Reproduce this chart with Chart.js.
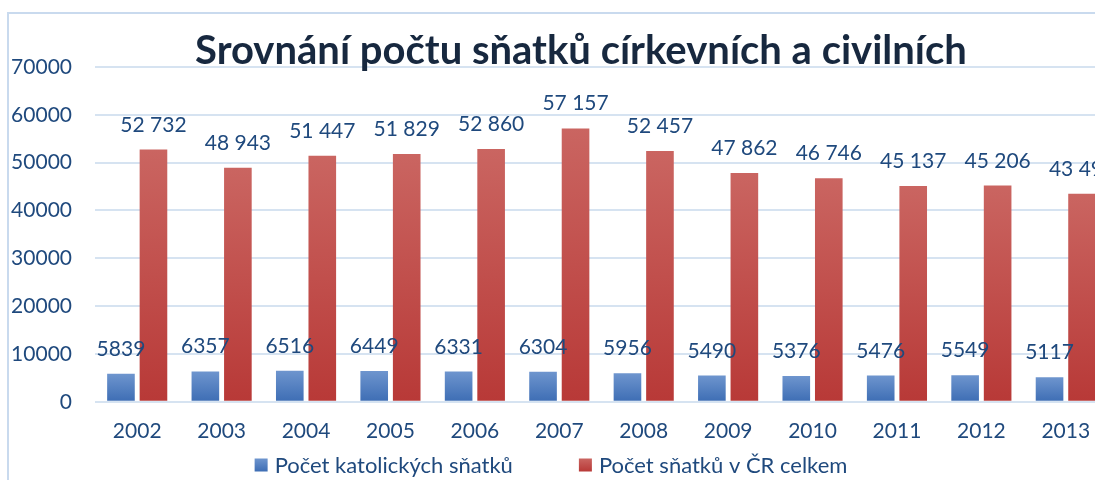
<!DOCTYPE html>
<html>
<head>
<meta charset="utf-8">
<script src="https://cdn.jsdelivr.net/npm/chart.js@4.4.1/dist/chart.umd.min.js"></script>
<style>
  html, body { margin: 0; padding: 0; background: #fff; overflow: hidden; }
  #wrap { position: relative; width: 1095px; height: 480px; overflow: hidden; }
  #frame { position: absolute; left: 7px; top: 12px; width: 1200px; height: 600px;
           border-left: 2px solid #c9daee; border-top: 2px solid #c9daee; }
  #box { position: absolute; left: 0; top: 0; width: 1120px; height: 480px; }
</style>
</head>
<body>
<div id="wrap">
  <div id="frame"></div>
  <div id="box"><canvas id="chart"></canvas></div>
</div>
<script>
const titleText = 'Srovnání počtu sňatků církevních a civilních';
const years = ['2002', '2003', '2004', '2005', '2006', '2007', '2008', '2009', '2010', '2011', '2012', '2013'];
const katolicke = [5839, 6357, 6516, 6449, 6331, 6304, 5956, 5490, 5376, 5476, 5549, 5117];
const celkem = [52732, 48943, 51447, 51829, 52860, 57157, 52457, 47862, 46746, 45137, 45206, 43499];
const seriesNames = ['Počet katolických sňatků', 'Počet sňatků v ČR celkem'];
const yMax = 70000;
const yStep = 10000;

const FONT = 'Lato, "Open Sans", sans-serif';
const TEXT = '#1f497d';

// top and bottom colour of each series (bars are shaded per bar)
const shades = [['#6e95ce', '#3d6db4'], ['#ca6561', '#b83937']];

function barGradient(i) {
  return function(c) {
    const chart = c.chart;
    if (!chart.chartArea || c.dataIndex === undefined) return shades[i][1];
    const y = chart.scales.y;
    const top = y.getPixelForValue(c.raw);
    const bottom = y.getPixelForValue(0);
    const g = chart.ctx.createLinearGradient(0, top, 0, bottom);
    g.addColorStop(0, shades[i][0]);
    g.addColorStop(1, shades[i][1]);
    return g;
  };
}

function spaced(n) {
  return String(n).replace(/\B(?=(\d{3})+(?!\d))/g, ' ');
}

// value labels above the bars
const barLabels = {
  id: 'barLabels',
  afterDatasetsDraw(chart) {
    const ctx = chart.ctx;
    ctx.save();
    ctx.font = '21px ' + FONT;
    ctx.fillStyle = TEXT;
    ctx.textAlign = 'center';
    ctx.textBaseline = 'alphabetic';
    chart.data.datasets.forEach((ds, i) => {
      chart.getDatasetMeta(i).data.forEach((bar, j) => {
        const v = ds.data[j];
        const txt = i === 0 ? String(v) : spaced(v);
        ctx.fillText(txt, bar.x, bar.y - 18);
      });
    });
    ctx.restore();
  }
};

// title and legend, placed like in the original sheet
const headerLegend = {
  id: 'headerLegend',
  afterDraw(chart) {
    const ctx = chart.ctx;
    ctx.save();
    ctx.fillStyle = '#17283f';
    ctx.font = 'bold 40px ' + FONT;
    ctx.textAlign = 'center';
    ctx.textBaseline = 'alphabetic';
    ctx.fillText(titleText, 581, 64);

    ctx.font = '22px ' + FONT;
    ctx.textAlign = 'left';
    ctx.textBaseline = 'middle';
    const box = 13, gapText = 7, gapItem = 66;
    const widths = seriesNames.map(s => box + gapText + ctx.measureText(s).width);
    const total = widths[0] + gapItem + widths[1];
    let x = 551 - total / 2;
    const y = 465;
    seriesNames.forEach((s, i) => {
      const g = ctx.createLinearGradient(0, y - box / 2, 0, y + box / 2);
      g.addColorStop(0, shades[i][0]);
      g.addColorStop(1, shades[i][1]);
      ctx.fillStyle = g;
      ctx.fillRect(x, y - box / 2, box, box);
      ctx.fillStyle = TEXT;
      ctx.fillText(s, x + box + gapText, y + 1);
      x += widths[i] + gapItem;
    });
    ctx.restore();
  }
};

new Chart(document.getElementById('chart'), {
  type: 'bar',
  data: {
    labels: years,
    datasets: [{
      label: seriesNames[0],
      data: katolicke,
      backgroundColor: barGradient(0),
    }, {
      label: seriesNames[1],
      data: celkem,
      backgroundColor: barGradient(1),
    }]
  },
  options: {
    responsive: true,
    maintainAspectRatio: false,
    animation: false,
    categoryPercentage: 0.77,
    barPercentage: 0.85,
    layout: { padding: { top: 67, right: 12, bottom: 19, left: 0 } },
    scales: {
      x: {
        grid: { display: false, drawTicks: false },
        border: { display: false },
        ticks: { color: TEXT, font: { family: FONT, size: 21 }, padding: 17 }
      },
      y: {
        min: 0,
        max: yMax,
        afterFit(scale) { scale.width = 95; },
        grid: { color: '#d6e3f1', lineWidth: 2, drawTicks: false },
        border: { display: false },
        ticks: {
          stepSize: yStep,
          color: TEXT,
          font: { family: FONT, size: 21 },
          padding: 23,
          callback: v => String(v)
        }
      }
    },
    plugins: {
      legend: { display: false },
      title: { display: false },
      tooltip: { enabled: false }
    }
  },
  plugins: [barLabels, headerLegend]
});
</script>
</body>
</html>
